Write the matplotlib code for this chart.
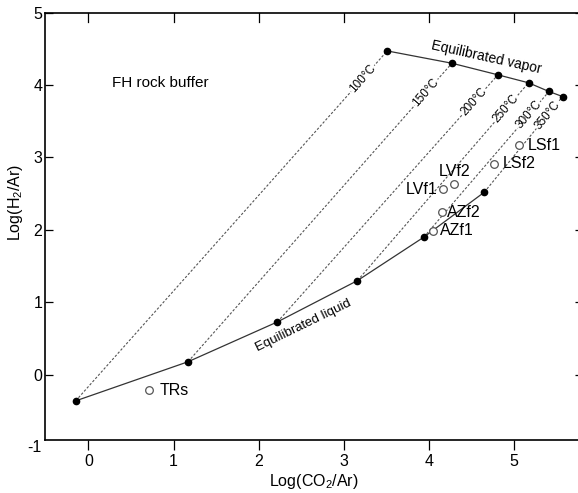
import numpy as np
import matplotlib
matplotlib.use('Agg')
from matplotlib import pyplot as plt

plt.rcParams['font.family'] = ['Liberation Sans', 'DejaVu Sans']
plt.rcParams['mathtext.fontset'] = 'custom'
plt.rcParams['mathtext.rm'] = 'Liberation Sans'
plt.rcParams['mathtext.it'] = 'Liberation Sans'

# equilibrium curves (one point per temperature)
temps = [100, 150, 200, 250, 300, 350]
liquid_x = [-0.15, 1.17, 2.22, 3.16, 3.94, 4.65]
liquid_y = [-0.36, 0.18, 0.73, 1.30, 1.90, 2.52]
vapor_x = [3.51, 4.27, 4.81, 5.17, 5.41, 5.57]
vapor_y = [4.47, 4.30, 4.14, 4.03, 3.91, 3.84]

# measured samples
sample_names = ['TRs', 'LSf1', 'LSf2', 'LVf2', 'LVf1', 'AZf2', 'AZf1']
sample_x = [0.71, 5.06, 4.77, 4.29, 4.16, 4.15, 4.05]
sample_y = [-0.21, 3.17, 2.91, 2.63, 2.56, 2.24, 1.99]

x_ticks = [0, 1, 2, 3, 4, 5]
y_ticks = [0, 1, 2, 3, 4, 5]


def main():
    fig = plt.figure(figsize=(5.78, 4.93), dpi=100)
    ax = fig.add_axes([0.0779, 0.1075, 0.9308, 0.8671])
    ax.set_xlim(-0.51, 5.81)
    ax.set_ylim(-0.9, 5.0)

    # isotherms
    for lx, ly, vx, vy in zip(liquid_x, liquid_y, vapor_x, vapor_y):
        ax.plot([lx, vx], [ly, vy], color='#555555', lw=0.8,
                linestyle=(0, (2.2, 1.6)), zorder=1)

    ax.plot(liquid_x, liquid_y, color='#333333', lw=0.9, zorder=2)
    ax.plot(vapor_x, vapor_y, color='#333333', lw=0.9, zorder=2)
    ax.plot(liquid_x, liquid_y, 'o', color='black', ms=4.5, zorder=3)
    ax.plot(vapor_x, vapor_y, 'o', color='black', ms=4.5, zorder=3)

    # temperature labels on the isotherms, near the vapor end
    gaps = [37, 39, 36, 34, 31, 24]
    for t, lx, ly, vx, vy, d in zip(temps, liquid_x, liquid_y, vapor_x, vapor_y, gaps):
        p0 = ax.transData.transform((lx, ly))
        p1 = ax.transData.transform((vx, vy))
        v = p0 - p1
        length = np.hypot(*v)
        pos = p1 + v / length * d
        xd, yd = ax.transData.inverted().transform(pos)
        ang = np.degrees(np.arctan2(p1[1] - p0[1], p1[0] - p0[0]))
        ax.text(xd, yd, f'{t}°C', fontsize=8.5, rotation=ang,
                rotation_mode='anchor', ha='center', va='center',
                bbox=dict(facecolor='white', edgecolor='none', pad=0.6),
                zorder=2.5)

    ax.plot(sample_x, sample_y, 'o', mfc='white', mec='#555555', mew=0.9,
            ms=5.5, zorder=4)
    offsets = {
        'TRs': ((8, 0), 'left'),
        'LSf1': ((6, 0), 'left'),
        'LSf2': ((6, 0), 'left'),
        'LVf2': ((1, 9.5), 'center'),
        'LVf1': ((-4, 0), 'right'),
        'AZf2': ((4, 0), 'left'),
        'AZf1': ((5, 0), 'left'),
    }
    for name, sx, sy in zip(sample_names, sample_x, sample_y):
        off, ha = offsets[name]
        ax.annotate(name, (sx, sy), xytext=off, textcoords='offset points',
                    ha=ha, va='center', fontsize=11.5)

    ax.text(4.67, 4.38, 'Equilibrated vapor', fontsize=10, rotation=-12.5,
            ha='center', va='center')
    ax.text(2.52, 0.68, 'Equilibrated liquid', fontsize=9.5, rotation=26,
            ha='center', va='center')
    ax.text(0.28, 4.03, 'FH rock buffer', fontsize=11, ha='left', va='center')

    ax.set_xticks(x_ticks)
    ax.set_yticks(y_ticks)
    ax.tick_params(axis='x', which='both', direction='out', length=7, width=0.9,
                   labelsize=11.5, pad=3, top=False)
    ax.tick_params(axis='y', which='both', direction='in', length=6, width=0.9,
                   labelsize=11.5, pad=2)
    ax.text(-0.006, -1, '-1', transform=ax.get_yaxis_transform(), ha='right',
            va='center', fontsize=11.5, clip_on=False)

    # inward ticks on top and right
    for xt in x_ticks:
        ax.plot([xt, xt], [1.0, 0.977], color='black', lw=0.9,
                transform=ax.get_xaxis_transform(), clip_on=False)
    ax.tick_params(axis='y', right=True)

    for sp in ax.spines.values():
        sp.set_linewidth(1.2)

    ax.set_xlabel('Log(CO$_2$/Ar)', fontsize=11.5, labelpad=2)
    ax.set_ylabel('Log(H$_2$/Ar)', fontsize=11.5)
    ax.yaxis.set_label_coords(-0.038, 0.557)

    fig.savefig('out.png', dpi=100)


if __name__ == '__main__':
    main()
